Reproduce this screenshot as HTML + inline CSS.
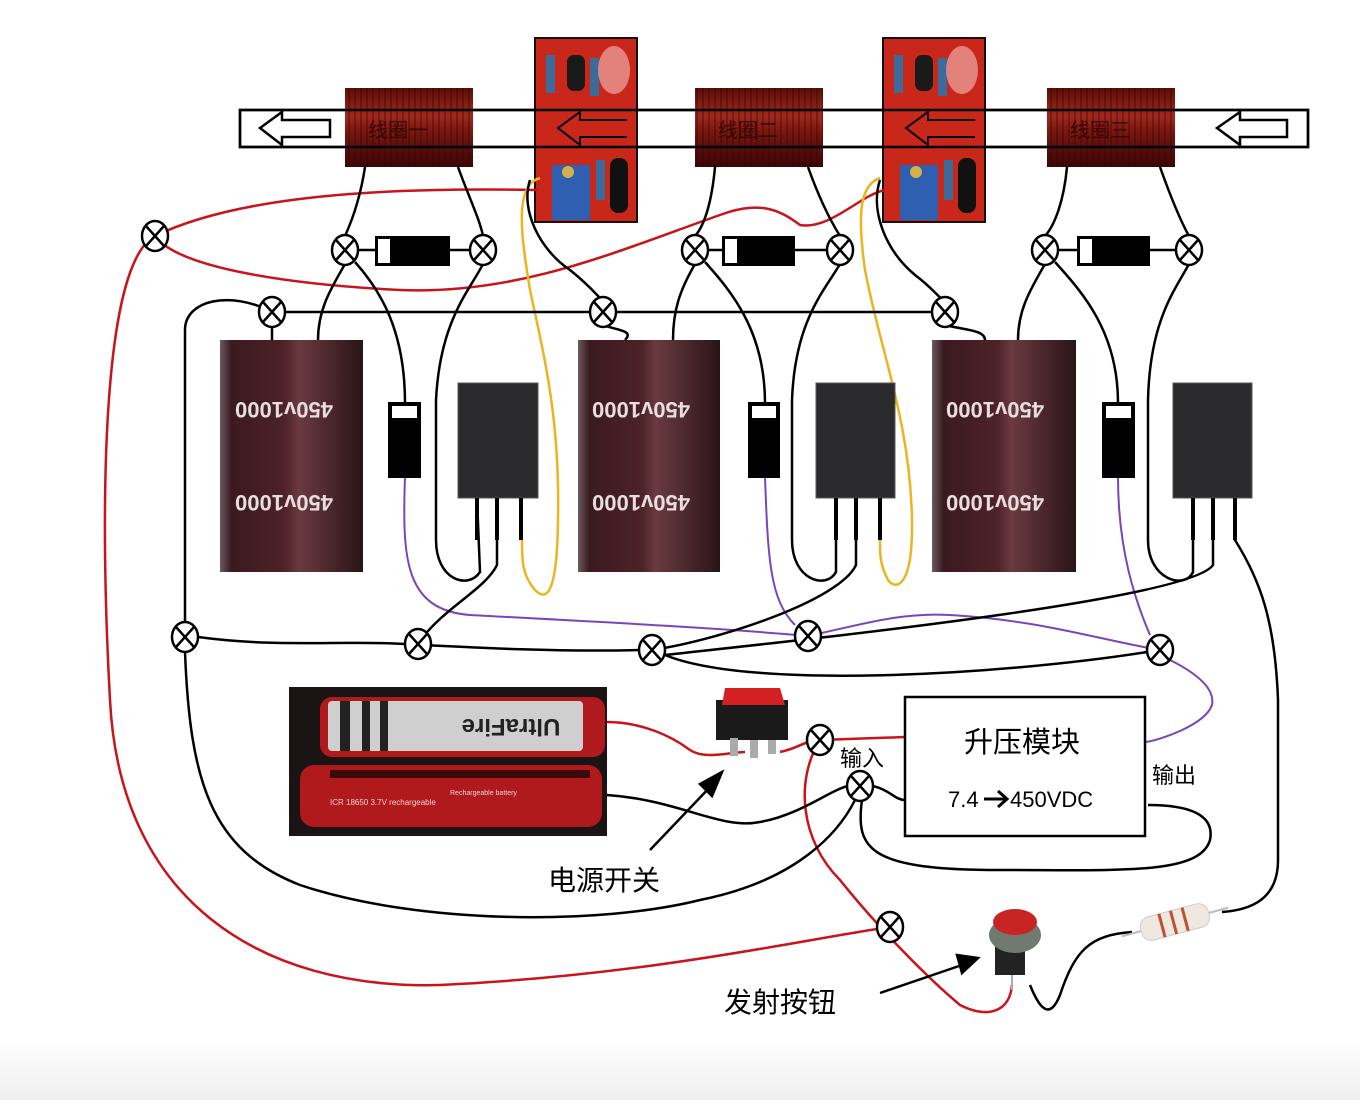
<!DOCTYPE html>
<html><head><meta charset="utf-8">
<style>
html,body{margin:0;padding:0;background:#fff;}
body{width:1360px;height:1100px;overflow:hidden;font-family:"Liberation Sans","Noto Sans CJK SC",sans-serif;}
svg text{font-family:"Liberation Sans","Noto Sans CJK SC",sans-serif;}
</style></head>
<body>
<svg width="1360" height="1100" viewBox="0 0 1360 1100" xmlns="http://www.w3.org/2000/svg">
<defs>
<linearGradient id="coil" x1="0" y1="0" x2="0" y2="1">
<stop offset="0" stop-color="#5a0d08"/><stop offset="0.35" stop-color="#a3281c"/><stop offset="0.55" stop-color="#7a1710"/><stop offset="1" stop-color="#3a0604"/></linearGradient>
<pattern id="wind" width="6" height="10" patternUnits="userSpaceOnUse"><rect width="6" height="10" fill="none"/><line x1="1" y1="0" x2="1" y2="10" stroke="#2a0402" stroke-width="1.2" opacity="0.55"/></pattern>
<linearGradient id="cap" x1="0" y1="0" x2="1" y2="0">
<stop offset="0" stop-color="#6a5a60"/><stop offset="0.08" stop-color="#3a1a20"/><stop offset="0.45" stop-color="#4d2228"/><stop offset="0.55" stop-color="#6a3a40"/><stop offset="1" stop-color="#2a1418"/></linearGradient>
<linearGradient id="bg" x1="0" y1="0" x2="0" y2="1"><stop offset="0" stop-color="#fff"/><stop offset="1" stop-color="#eeeeee"/></linearGradient>
<g id="jx"><ellipse cx="0" cy="0" rx="13" ry="15" fill="#fff" stroke="#000" stroke-width="2.5"/><line x1="-9" y1="-10" x2="9" y2="10" stroke="#000" stroke-width="2.5"/><line x1="9" y1="-10" x2="-9" y2="10" stroke="#000" stroke-width="2.5"/></g>
</defs>
<rect x="0" y="1040" width="1360" height="60" fill="url(#bg)"/>

<rect x="240" y="110" width="1068" height="37" fill="#fff" stroke="#000" stroke-width="2.5"/>
<path d="M330,120 L282,120 L282,112 L260,128 L282,145 L282,137 L330,137 Z" fill="#fff" stroke="#000" stroke-width="2.5"/>
<path d="M1287,120 L1240,120 L1240,112 L1217,128 L1240,145 L1240,137 L1287,137 Z" fill="#fff" stroke="#000" stroke-width="2.5"/>

<g>
<rect x="345" y="88" width="128" height="79" fill="url(#coil)"/><rect x="345" y="88" width="128" height="79" fill="url(#wind)"/>
<rect x="695" y="88" width="128" height="79" fill="url(#coil)"/><rect x="695" y="88" width="128" height="79" fill="url(#wind)"/>
<rect x="1047" y="88" width="128" height="79" fill="url(#coil)"/><rect x="1047" y="88" width="128" height="79" fill="url(#wind)"/>
<text x="368" y="137" font-size="20" fill="#2a0000" opacity="0.8">线圈一</text>
<text x="718" y="137" font-size="20" fill="#2a0000" opacity="0.8">线圈二</text>
<text x="1070" y="137" font-size="20" fill="#2a0000" opacity="0.8">线圈三</text>
</g>

<g id="pcb1">
<rect x="535" y="38" width="102" height="184" fill="#c8271a" stroke="#111" stroke-width="2"/>
<rect x="567" y="55" width="18" height="36" rx="7" fill="#1a1a1a"/>
<rect x="546" y="55" width="9" height="38" fill="#3b6b9a"/><rect x="590" y="58" width="9" height="38" fill="#3b6b9a"/>
<ellipse cx="614" cy="70" rx="16" ry="24" fill="#e89a94" opacity="0.8"/>
<rect x="552" y="165" width="38" height="55" fill="#2e5fb0"/>
<circle cx="568" cy="172" r="6" fill="#d4b24a"/>
<rect x="596" y="160" width="9" height="40" fill="#3b6b9a"/>
<rect x="610" y="158" width="18" height="55" rx="8" fill="#111"/>
</g>
<use href="#pcb1" x="348"/>
<rect x="240" y="110" width="1068" height="37" fill="none" stroke="#000" stroke-width="2.5"/>
<path d="M627,120 L580,120 L580,112 L558,128 L580,145 L580,137 L627,137" fill="none" stroke="#000" stroke-width="2"/>
<path d="M975,120 L928,120 L928,112 L906,128 L928,145 L928,137 L975,137" fill="none" stroke="#000" stroke-width="2"/>

<g fill="none" stroke="#c8141a" stroke-width="2.5">
<path d="M538,190 C420,188 250,190 155,236 C100,265 100,520 110,700 C120,900 260,990 440,985 C650,975 800,940 890,927"/>
<path d="M155,236 C180,270 300,285 400,290 C520,295 620,250 720,215 C760,200 780,210 800,225 C830,230 860,195 885,190"/>
<path d="M607,722 C640,722 670,735 690,750 C705,760 730,752 745,752"/>
<path d="M780,752 C800,748 805,740 820,740 L905,737"/>
<path d="M820,740 C795,780 800,840 840,880 C880,930 930,980 960,1005 C990,1020 1010,1010 1012,985"/>
</g>

<g fill="none" stroke="#eab520" stroke-width="2.5">
<path d="M540,178 C515,185 520,230 530,290 C545,360 560,420 558,520 C557,600 545,600 535,590 C522,575 522,560 522,540"/>
<path d="M880,178 C858,185 858,220 865,270 C880,350 910,420 912,520 C913,590 895,590 888,580 C880,565 880,555 880,540"/>
</g>

<g fill="none" stroke="#7a45b8" stroke-width="2">
<path d="M405,477 C402,560 405,610 470,615 C600,622 720,628 808,636"/>
<path d="M765,477 C768,560 770,600 795,625"/>
<path d="M808,636 C860,625 900,612 950,615 C1040,620 1100,640 1160,650"/>
<path d="M1118,477 C1118,550 1135,600 1150,635"/>
<path d="M1170,660 C1200,675 1215,690 1212,705 C1205,725 1160,740 1146,742"/>
</g>

<g fill="none" stroke="#000" stroke-width="2.5">
<path d="M185,622 L185,330 C185,300 230,290 272,312 L603,312 L945,312"/>
<path d="M272,325 L272,340"/>
<path d="M603,325 C615,330 635,330 625,340"/>
<path d="M945,325 C965,330 985,330 985,340"/>
<path d="M365,167 C360,200 350,225 345,236"/>
<path d="M345,264 C330,290 318,310 318,340"/>
<path d="M458,167 C468,195 480,220 483,236"/>
<path d="M483,264 C470,290 440,320 436,400 L436,540 C436,580 468,590 480,572 L477,498"/>
<path d="M355,262 C380,290 405,330 405,403"/>
<path d="M497,498 L497,565 C485,590 440,610 418,644"/>
<path d="M530,180 C520,210 540,250 570,270 C595,290 600,300 603,300"/>
<path d="M715,167 C712,200 705,225 695,236"/>
<path d="M695,264 C680,290 673,310 673,340"/>
<path d="M808,167 C818,195 830,220 840,236"/>
<path d="M840,264 C825,290 795,320 792,400 L792,540 C792,580 826,590 836,572 L836,498"/>
<path d="M705,262 C730,290 765,330 765,403"/>
<path d="M856,498 L856,565 C840,600 720,640 652,650"/>
<path d="M880,180 C870,210 885,250 915,275 C935,290 940,300 945,300"/>
<path d="M1067,167 C1064,200 1055,225 1045,236"/>
<path d="M1045,264 C1030,290 1018,310 1018,340"/>
<path d="M1160,167 C1170,195 1180,220 1189,236"/>
<path d="M1189,264 C1175,290 1150,320 1148,400 L1148,540 C1148,580 1185,590 1193,572 L1193,498"/>
<path d="M1055,262 C1080,290 1118,330 1118,403"/>
<path d="M1213,498 L1213,565 C1190,600 800,640 665,655"/>
<path d="M1235,498 L1235,540 C1260,580 1275,620 1278,700 L1278,860 C1278,900 1250,910 1222,912"/>
<path d="M198,637 C280,648 340,640 405,644 C480,648 560,652 640,650"/>
<path d="M665,655 C750,690 1000,675 1147,652"/>
<path d="M185,652 C190,780 210,850 300,885 C420,925 600,925 700,900 C800,880 840,830 855,800"/>
<path d="M607,795 C680,800 720,830 760,822 C800,815 830,790 848,786"/>
<path d="M873,786 C890,790 895,800 905,800"/>
<path d="M862,800 C855,850 870,870 1000,870 C1120,870 1200,875 1210,840 C1215,815 1190,805 1148,805"/>
<path d="M1030,985 C1040,1010 1050,1020 1060,995 C1075,950 1090,935 1132,932"/>
</g>

<g>
<line x1="358" y1="250" x2="470" y2="250" stroke="#000" stroke-width="2.5"/>
<rect x="375" y="236" width="75" height="30" fill="#000"/><rect x="378" y="239" width="12" height="24" fill="#fff"/>
<line x1="708" y1="250" x2="827" y2="250" stroke="#000" stroke-width="2.5"/>
<rect x="722" y="236" width="73" height="30" fill="#000"/><rect x="725" y="239" width="12" height="24" fill="#fff"/>
<line x1="1058" y1="250" x2="1176" y2="250" stroke="#000" stroke-width="2.5"/>
<rect x="1077" y="236" width="73" height="30" fill="#000"/><rect x="1080" y="239" width="12" height="24" fill="#fff"/>
</g>

<g>
<rect x="220" y="340" width="143" height="232" fill="url(#cap)"/>
<rect x="578" y="340" width="142" height="232" fill="url(#cap)"/>
<rect x="932" y="340" width="144" height="232" fill="url(#cap)"/>
<g fill="#e8dde0" font-size="22" font-weight="bold">
<text x="300" y="402" transform="rotate(180 292 402)" text-anchor="middle">450v1000</text>
<text x="300" y="495" transform="rotate(180 292 495)" text-anchor="middle">450v1000</text>
<text x="657" y="402" transform="rotate(180 649 402)" text-anchor="middle">450v1000</text>
<text x="657" y="495" transform="rotate(180 649 495)" text-anchor="middle">450v1000</text>
<text x="1011" y="402" transform="rotate(180 1003 402)" text-anchor="middle">450v1000</text>
<text x="1011" y="495" transform="rotate(180 1003 495)" text-anchor="middle">450v1000</text>
</g>
</g>

<g stroke="#000" stroke-width="2">
<rect x="389" y="403" width="31" height="74" fill="#000"/><rect x="392" y="406" width="25" height="12" fill="#fff" stroke="none"/>
<rect x="749" y="403" width="30" height="74" fill="#000"/><rect x="752" y="406" width="24" height="12" fill="#fff" stroke="none"/>
<rect x="1103" y="403" width="31" height="74" fill="#000"/><rect x="1106" y="406" width="25" height="12" fill="#fff" stroke="none"/>
</g>

<g>
<rect x="458" y="383" width="80" height="115" fill="#2a2a2c" stroke="#555" stroke-width="1"/>
<rect x="816" y="383" width="79" height="115" fill="#2a2a2c" stroke="#555" stroke-width="1"/>
<rect x="1173" y="383" width="79" height="115" fill="#2a2a2c" stroke="#555" stroke-width="1"/>
<g stroke="#000" stroke-width="4"><line x1="477" y1="498" x2="477" y2="540"/><line x1="497" y1="498" x2="497" y2="540"/><line x1="521" y1="498" x2="521" y2="540"/>
<line x1="836" y1="498" x2="836" y2="540"/><line x1="856" y1="498" x2="856" y2="540"/><line x1="880" y1="498" x2="880" y2="540"/>
<line x1="1193" y1="498" x2="1193" y2="540"/><line x1="1213" y1="498" x2="1213" y2="540"/><line x1="1235" y1="498" x2="1235" y2="540"/></g>
</g>

<use href="#jx" x="155" y="236"/><use href="#jx" x="345" y="250"/><use href="#jx" x="483" y="250"/>
<use href="#jx" x="272" y="312"/><use href="#jx" x="603" y="312"/><use href="#jx" x="695" y="250"/>
<use href="#jx" x="840" y="250"/><use href="#jx" x="945" y="312"/><use href="#jx" x="1045" y="250"/>
<use href="#jx" x="1189" y="250"/><use href="#jx" x="185" y="637"/><use href="#jx" x="418" y="644"/>
<use href="#jx" x="652" y="650"/><use href="#jx" x="808" y="636"/><use href="#jx" x="1160" y="650"/>
<use href="#jx" x="820" y="740"/><use href="#jx" x="860" y="786"/><use href="#jx" x="890" y="927"/>

<g>
<rect x="289" y="687" width="318" height="149" fill="#1a1414"/>
<rect x="320" y="697" width="285" height="60" rx="12" fill="#b01a1c"/>
<rect x="328" y="701" width="255" height="50" rx="4" fill="#cfcfcf"/>
<rect x="340" y="701" width="10" height="50" fill="#222"/><rect x="362" y="701" width="8" height="50" fill="#222"/><rect x="380" y="701" width="8" height="50" fill="#222"/>
<text x="525" y="733" font-size="24" font-family="Liberation Serif" font-weight="bold" fill="#222" transform="rotate(180 518 726)" text-anchor="middle">UltraFire</text>
<rect x="300" y="765" width="302" height="62" rx="14" fill="#b01a1c"/>
<rect x="330" y="770" width="260" height="8" fill="#3a0a0a"/>
<text x="330" y="805" font-size="8" fill="#f0d0d0">ICR 18650 3.7V rechargeable</text>
<text x="450" y="795" font-size="7" fill="#f0d0d0">Rechargeable battery</text>
</g>

<g>
<rect x="716" y="700" width="72" height="40" fill="#1a1a1a"/>
<path d="M725,688 L780,688 L785,705 L722,705 Z" fill="#d42020"/>
<rect x="730" y="738" width="8" height="18" fill="#aaa"/><rect x="750" y="740" width="8" height="18" fill="#aaa"/><rect x="768" y="740" width="8" height="14" fill="#aaa"/>
</g>

<rect x="905" y="697" width="240" height="139" fill="#fff" stroke="#000" stroke-width="2.5"/>
<text x="1022" y="752" font-size="29" text-anchor="middle" fill="#000">升压模块</text>
<text x="948" y="807" font-size="22" fill="#000">7.4</text>
<path d="M984,799 L1006,799 M998,791 L1007,799 L998,807" fill="none" stroke="#000" stroke-width="3"/>
<text x="1010" y="807" font-size="22" fill="#000">450VDC</text>
<text x="840" y="766" font-size="22" fill="#000">输入</text>
<text x="1152" y="783" font-size="22" fill="#000">输出</text>

<g>
<rect x="995" y="935" width="30" height="40" fill="#222"/>
<ellipse cx="1015" cy="935" rx="26" ry="18" fill="#707a70"/>
<ellipse cx="1015" cy="922" rx="22" ry="13" fill="#c82424"/>
<line x1="1012" y1="975" x2="1012" y2="990" stroke="#aaa" stroke-width="2"/>
</g>
<g transform="rotate(-15 1175 922)">
<line x1="1120" y1="922" x2="1230" y2="922" stroke="#bbb" stroke-width="2"/>
<rect x="1140" y="910" width="70" height="24" rx="10" fill="#eee8e0" stroke="#ccc"/>
<rect x="1160" y="910" width="3" height="24" fill="#c05030"/><rect x="1172" y="910" width="3" height="24" fill="#c05030"/><rect x="1184" y="910" width="3" height="24" fill="#c05030"/>
</g>

<g stroke="#000" stroke-width="2.5" fill="#000">
<line x1="650" y1="850" x2="712" y2="785"/>
<path d="M722,772 L700,784 L712,796 Z"/>
<line x1="880" y1="993" x2="962" y2="965"/>
<path d="M978,958 L957,955 L962,973 Z"/>
</g>
<text x="548" y="890" font-size="28" fill="#000">电源开关</text>
<text x="724" y="1012" font-size="28" fill="#000">发射按钮</text>
</svg>
</body></html>
